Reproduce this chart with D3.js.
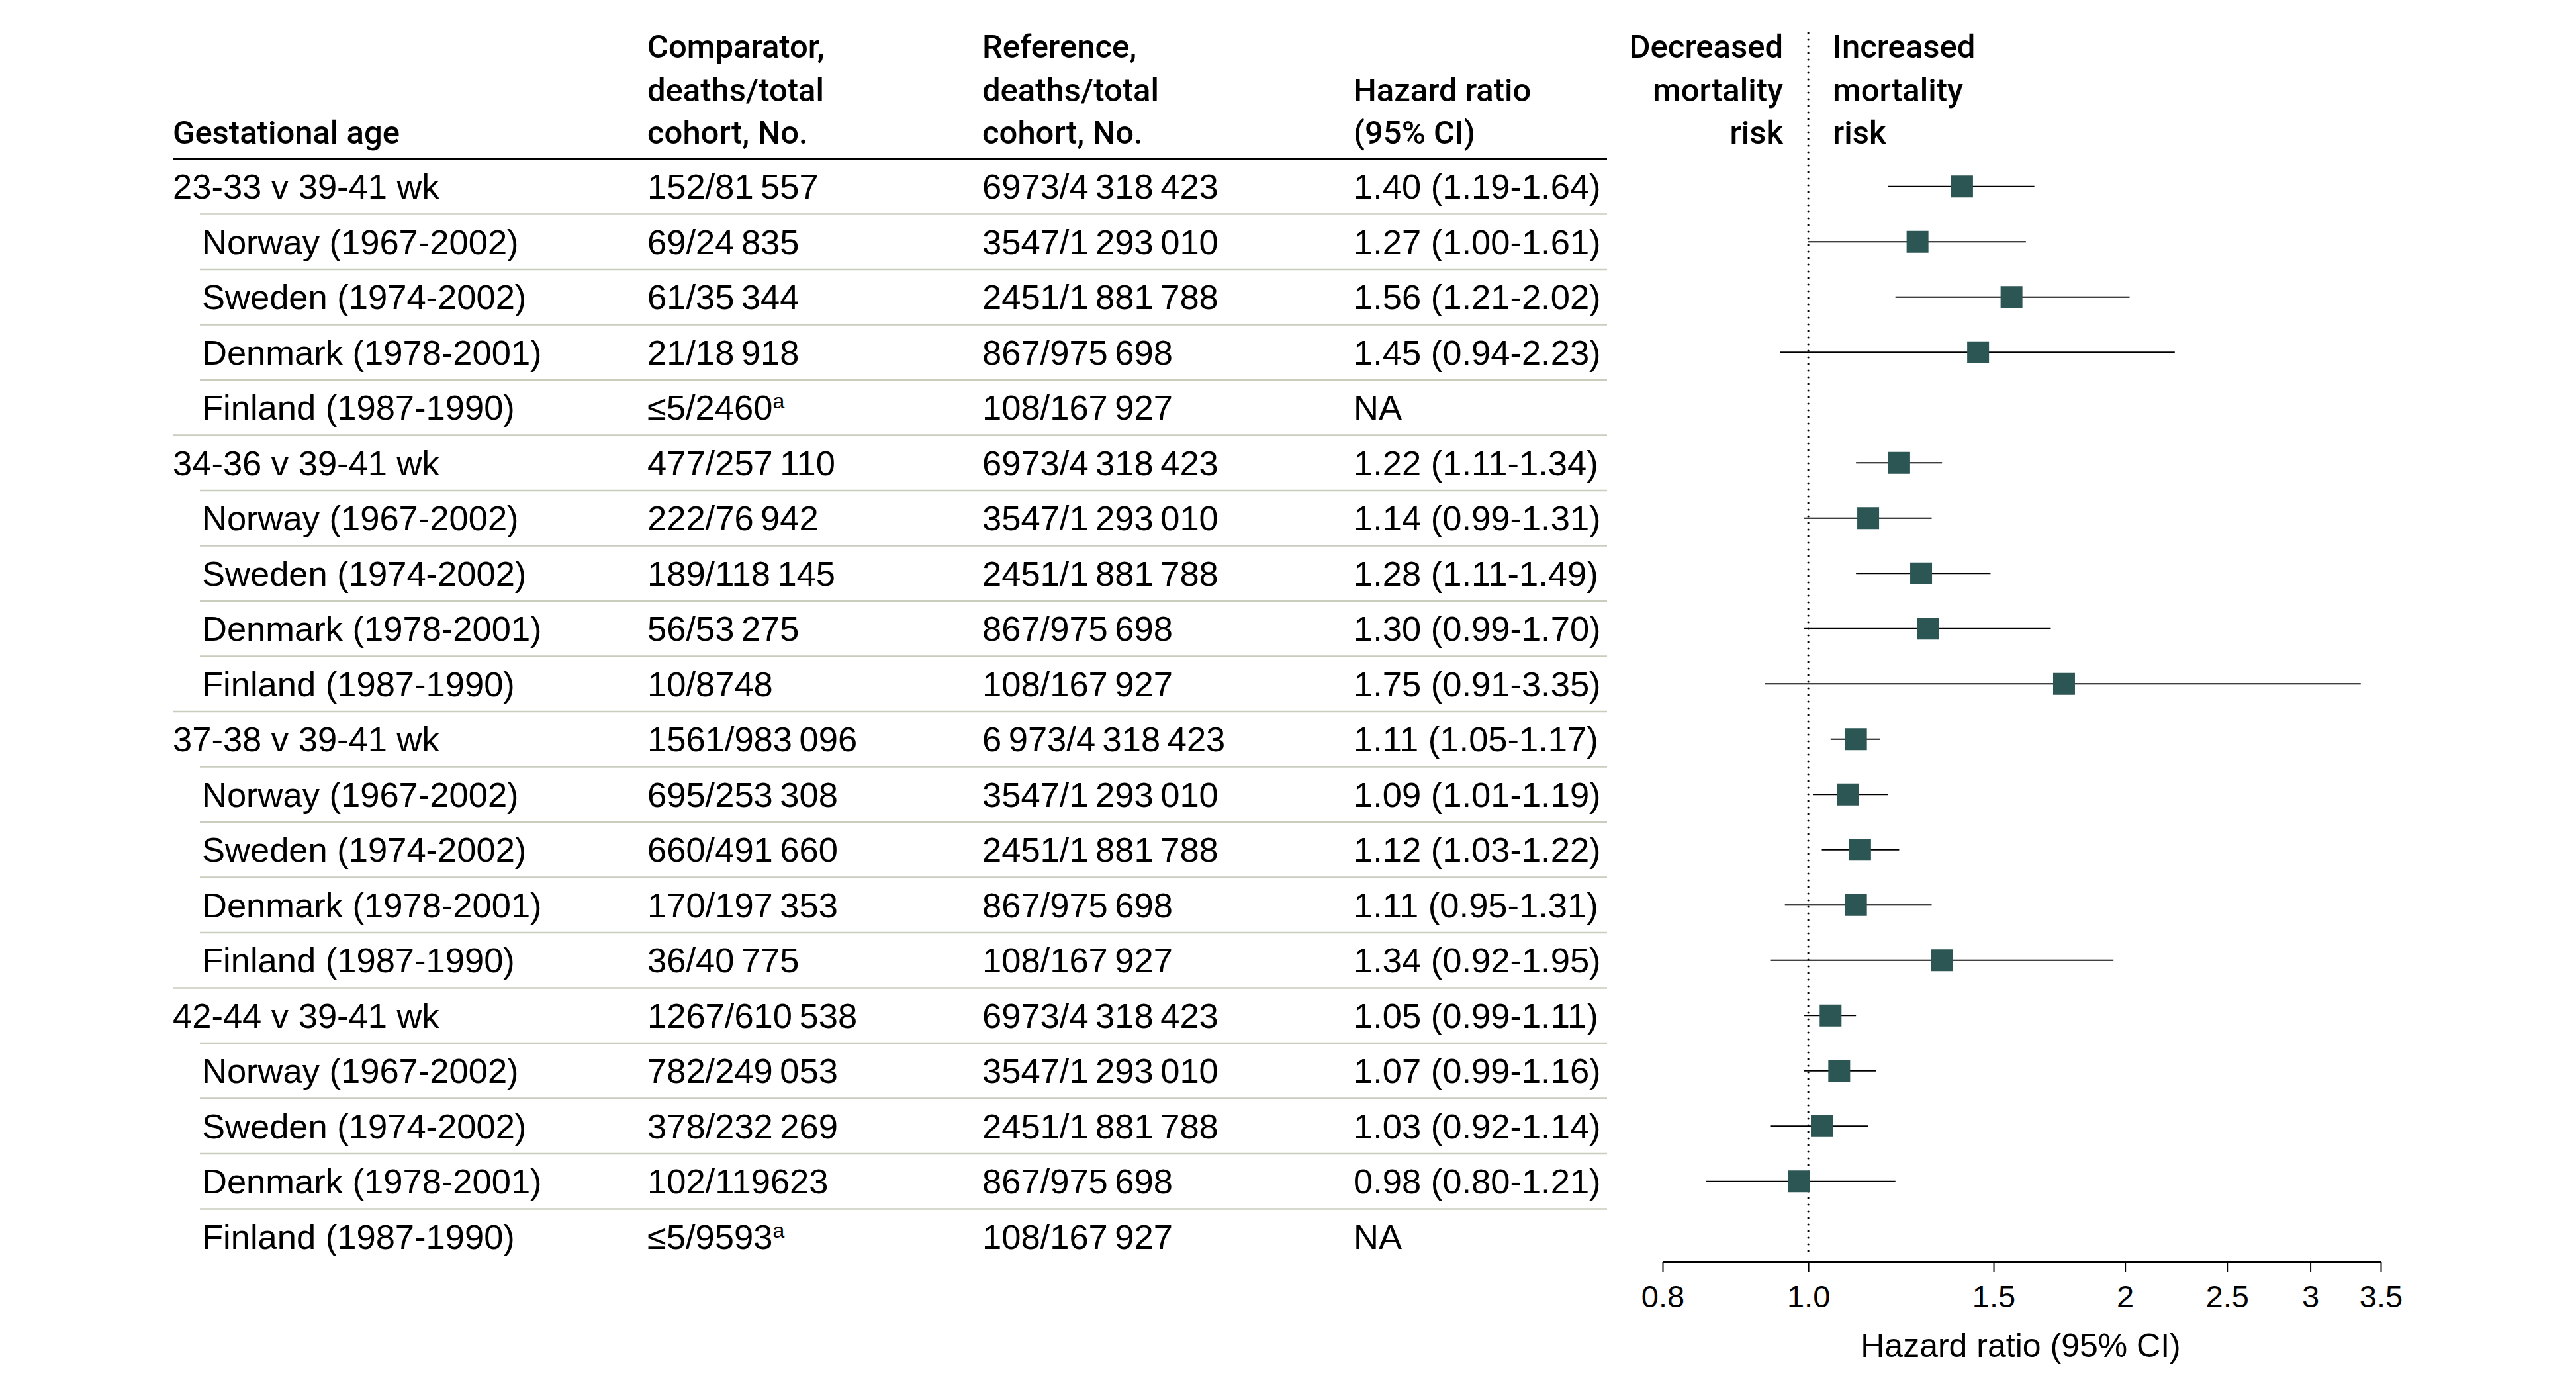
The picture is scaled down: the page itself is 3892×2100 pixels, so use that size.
<!DOCTYPE html>
<html>
<head>
<meta charset="utf-8">
<script src="https://cdn.jsdelivr.net/npm/d3@7"></script>
<style>
  html, body { margin: 0; padding: 0; background: #fff; }
  svg { display: block; }
  text { font-family: "Liberation Sans", Arial, sans-serif; fill: #000; }
  .hdr { font-family: Roboto, "Liberation Sans", sans-serif; font-weight: 500; }
</style>
</head>
<body>
<svg id="chart" width="3892" height="2100"></svg>
<script>
// ---------------- DATA ----------------
const rowLabels = [
  "23-33 v 39-41 wk", "Norway (1967-2002)", "Sweden (1974-2002)", "Denmark (1978-2001)", "Finland (1987-1990)",
  "34-36 v 39-41 wk", "Norway (1967-2002)", "Sweden (1974-2002)", "Denmark (1978-2001)", "Finland (1987-1990)",
  "37-38 v 39-41 wk", "Norway (1967-2002)", "Sweden (1974-2002)", "Denmark (1978-2001)", "Finland (1987-1990)",
  "42-44 v 39-41 wk", "Norway (1967-2002)", "Sweden (1974-2002)", "Denmark (1978-2001)", "Finland (1987-1990)"
];
const isGroup = [1,0,0,0,0, 1,0,0,0,0, 1,0,0,0,0, 1,0,0,0,0];
const T = "\u2009";
const comparator = [
  "152/81"+T+"557", "69/24"+T+"835", "61/35"+T+"344", "21/18"+T+"918", "≤5/2460",
  "477/257"+T+"110", "222/76"+T+"942", "189/118"+T+"145", "56/53"+T+"275", "10/8748",
  "1561/983"+T+"096", "695/253"+T+"308", "660/491"+T+"660", "170/197"+T+"353", "36/40"+T+"775",
  "1267/610"+T+"538", "782/249"+T+"053", "378/232"+T+"269", "102/119623", "≤5/9593"
];
const comparatorNote = [0,0,0,0,1, 0,0,0,0,0, 0,0,0,0,0, 0,0,0,0,1];
const reference = [
  "6973/4"+T+"318"+T+"423", "3547/1"+T+"293"+T+"010", "2451/1"+T+"881"+T+"788", "867/975"+T+"698", "108/167"+T+"927",
  "6973/4"+T+"318"+T+"423", "3547/1"+T+"293"+T+"010", "2451/1"+T+"881"+T+"788", "867/975"+T+"698", "108/167"+T+"927",
  "6"+T+"973/4"+T+"318"+T+"423", "3547/1"+T+"293"+T+"010", "2451/1"+T+"881"+T+"788", "867/975"+T+"698", "108/167"+T+"927",
  "6973/4"+T+"318"+T+"423", "3547/1"+T+"293"+T+"010", "2451/1"+T+"881"+T+"788", "867/975"+T+"698", "108/167"+T+"927"
];
const hr = [1.40, 1.27, 1.56, 1.45, null, 1.22, 1.14, 1.28, 1.30, 1.75, 1.11, 1.09, 1.12, 1.11, 1.34, 1.05, 1.07, 1.03, 0.98, null];
const lo = [1.19, 1.00, 1.21, 0.94, null, 1.11, 0.99, 1.11, 0.99, 0.91, 1.05, 1.01, 1.03, 0.95, 0.92, 0.99, 0.99, 0.92, 0.80, null];
const hi = [1.64, 1.61, 2.02, 2.23, null, 1.34, 1.31, 1.49, 1.70, 3.35, 1.17, 1.19, 1.22, 1.31, 1.95, 1.11, 1.16, 1.14, 1.21, null];

const axisDomain = [0.727, 3.5];
const tickValues = [0.727, 1, 1.5, 2, 2.5, 3, 3.5];
const tickLabels = ["0.8", "1.0", "1.5", "2", "2.5", "3", "3.5"];

const colHeaders = [
  {lines: ["Gestational age"], col: 0},
  {lines: ["Comparator,", "deaths/total", "cohort, No."], col: 1},
  {lines: ["Reference,", "deaths/total", "cohort, No."], col: 2},
  {lines: ["Hazard ratio", "(95% CI)"], col: 3}
];
const leftNote = ["Decreased", "mortality", "risk"];
const rightNote = ["Increased", "mortality", "risk"];
const axisTitle = "Hazard ratio (95% CI)";

// ---------------- LAYOUT ----------------
const svg = d3.select("#chart");
svg.append("rect").attr("width", 3892).attr("height", 2100).attr("fill", "#fff");

const FS = 52.5;
const HFS = 49;
const colX = [261, 978, 1484, 2045];
const indentX = 305;
const tableRight = 2428;
const headerBaselines = [87, 153, 217];
const headerRuleY = 240;

const n = rowLabels.length;
const y = d3.scaleBand().domain(d3.range(n)).range([240, 240 + 83.5 * n]).paddingInner(0).paddingOuter(0);
const cy = i => y(i) + y.bandwidth() / 2;

const x = d3.scaleLog().domain(axisDomain).range([2512, 3597]);
const axisY = 1906;

// Headers
colHeaders.forEach(h => {
  const nL = h.lines.length;
  h.lines.forEach((ln, k) => {
    svg.append("text").attr("class", "hdr")
      .attr("x", colX[h.col]).attr("y", headerBaselines[3 - nL + k])
      .attr("font-size", HFS).text(ln);
  });
});
leftNote.forEach((ln, k) => {
  svg.append("text").attr("class", "hdr").attr("x", 2694).attr("y", headerBaselines[k])
    .attr("text-anchor", "end").attr("font-size", HFS).text(ln);
});
rightNote.forEach((ln, k) => {
  svg.append("text").attr("class", "hdr").attr("x", 2769).attr("y", headerBaselines[k])
    .attr("font-size", HFS).text(ln);
});

// Header rule
svg.append("line").attr("x1", colX[0]).attr("x2", tableRight)
  .attr("y1", headerRuleY).attr("y2", headerRuleY)
  .attr("stroke", "#000").attr("stroke-width", 4);

// Row separators
d3.range(n - 1).forEach(i => {
  const yy = y(i) + y.bandwidth();
  svg.append("line")
    .attr("x1", isGroup[i + 1] ? colX[0] : indentX - 3).attr("x2", tableRight)
    .attr("y1", yy).attr("y2", yy)
    .attr("stroke", "#c8cdbd").attr("stroke-width", 2.5);
});

// Row texts
const rows = svg.append("g").selectAll("g.row").data(d3.range(n)).join("g").attr("class", "row");
rows.append("text")
  .attr("x", i => isGroup[i] ? colX[0] : indentX)
  .attr("y", i => cy(i) + 18.5).attr("font-size", FS)
  .text(i => rowLabels[i]);
const comp = rows.append("text")
  .attr("x", colX[1]).attr("y", i => cy(i) + 18.5).attr("font-size", FS);
comp.append("tspan").text(i => comparator[i]);
comp.filter(i => comparatorNote[i]).append("tspan")
  .attr("dy", -17).attr("font-size", 32).text("a");
rows.append("text")
  .attr("x", colX[2]).attr("y", i => cy(i) + 18.5).attr("font-size", FS)
  .text(i => reference[i]);
rows.append("text")
  .attr("x", colX[3]).attr("y", i => cy(i) + 18.5).attr("font-size", FS)
  .text(i => hr[i] == null ? "NA" : `${hr[i].toFixed(2)} (${lo[i].toFixed(2)}-${hi[i].toFixed(2)})`);

// Reference (null) line
svg.append("line").attr("x1", x(1)).attr("x2", x(1))
  .attr("y1", 50).attr("y2", axisY - 6)
  .attr("stroke", "#000").attr("stroke-width", 3.2)
  .attr("stroke-linecap", "round").attr("stroke-dasharray", "0 10");

// CI lines and markers
const plotIdx = d3.range(n).filter(i => hr[i] != null);
svg.append("g").selectAll("line").data(plotIdx).join("line")
  .attr("x1", i => x(lo[i])).attr("x2", i => x(hi[i]))
  .attr("y1", i => cy(i)).attr("y2", i => cy(i))
  .attr("stroke", "#000").attr("stroke-width", 2.2);
const MS = 33;
svg.append("g").selectAll("rect").data(plotIdx).join("rect")
  .attr("x", i => x(hr[i]) - MS / 2).attr("y", i => cy(i) - MS / 2)
  .attr("width", MS).attr("height", MS)
  .attr("fill", "#2b5654");

// Axis
const axis = d3.axisBottom(x).tickValues(tickValues).tickSize(16).tickSizeOuter(0)
  .tickFormat((d, k) => tickLabels[k]);
const gA = svg.append("g").attr("transform", `translate(0,${axisY})`).call(axis);
gA.select(".domain").attr("stroke", "#000").attr("stroke-width", 3);
gA.selectAll(".tick line").attr("stroke", "#000").attr("stroke-width", 2);
gA.selectAll(".tick text").attr("y", 69).attr("dy", 0)
  .attr("font-family", "Liberation Sans, Arial, sans-serif").attr("font-size", 47).attr("fill", "#000");

svg.append("text").attr("x", 3053).attr("y", 2050).attr("text-anchor", "middle")
  .attr("font-size", 50).text(axisTitle);
</script>
</body>
</html>
